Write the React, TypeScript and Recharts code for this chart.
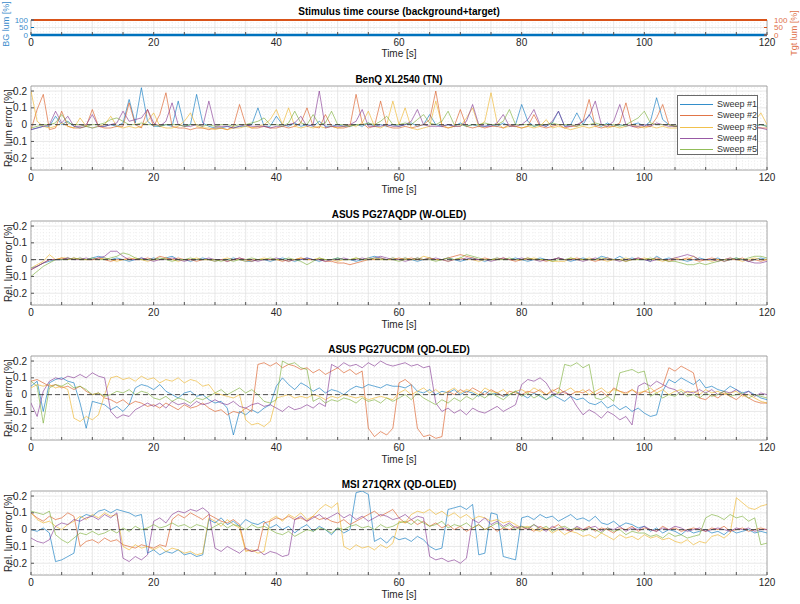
import React from "react";
import {
  LineChart,
  Line,
  XAxis,
  YAxis,
  CartesianGrid,
  ReferenceLine,
  ReferenceArea,
} from "recharts";

// sample times [s]
const time = [
  0, 1, 2, 3, 4, 5, 6, 7, 8, 9, 10, 11, 12, 13, 14, 15, 16, 17, 18, 19,
  20, 21, 22, 23, 24, 25, 26, 27, 28, 29, 30, 31, 32, 33, 34, 35, 36, 37, 38, 39,
  40, 41, 42, 43, 44, 45, 46, 47, 48, 49, 50, 51, 52, 53, 54, 55, 56, 57, 58, 59,
  60, 61, 62, 63, 64, 65, 66, 67, 68, 69, 70, 71, 72, 73, 74, 75, 76, 77, 78, 79,
  80, 81, 82, 83, 84, 85, 86, 87, 88, 89, 90, 91, 92, 93, 94, 95, 96, 97, 98, 99,
  100, 101, 102, 103, 104, 105, 106, 107, 108, 109, 110, 111, 112, 113, 114, 115, 116, 117, 118, 119,
  120,
];

// stimulus time course
const stimTime = [0, 120];
const bgLum = [0, 0];
const tgtLum = [100, 100];

const sweepNames = ["Sweep #1", "Sweep #2", "Sweep #3", "Sweep #4", "Sweep #5"];
const sweepColors = ["#0072BD", "#D95319", "#EDB120", "#7E2F8E", "#77AC30"];

const xTicks = [0, 5, 10, 15, 20, 25, 30, 35, 40, 45, 50, 55, 60, 65, 70, 75, 80, 85, 90, 95, 100, 105, 110, 115, 120];
const yTicks = [-0.2, -0.1, 0, 0.1, 0.2];
const yMinor = [-0.26, -0.24, -0.22, -0.18, -0.16, -0.14, -0.12, -0.08, -0.06, -0.04, -0.02, 0.02, 0.04, 0.06, 0.08, 0.12, 0.14, 0.16, 0.18, 0.22];
const stimTicks = [0, 50, 100];
const stimMinor = [20, 40, 60, 80];

// ---------- BenQ XL2540 (TN) ----------
const benq1 = [
  -0.03, -0.02, -0.01, -0.01, 0.05, 0.00, 0.02, -0.01, -0.02, -0.01,
  -0.02, -0.01, -0.01, 0.00, -0.01, 0.01, 0.15, 0.01, 0.22, 0.02,
  -0.01, -0.01, 0.00, -0.01, 0.14, -0.01, 0.00, 0.18, 0.01, -0.01,
  -0.02, -0.02, -0.01, -0.02, -0.01, -0.01, 0.00, 0.10, -0.01, -0.01,
  0.05, 0.00, -0.01, 0.01, -0.01, 0.00, -0.01, 0.02, -0.01, -0.01,
  0.00, -0.01, -0.01, 0.00, -0.01, 0.01, -0.01, 0.00, -0.01, 0.00,
  -0.01, 0.00, 0.01, -0.01, 0.00, 0.06, 0.00, -0.01, 0.00, -0.01,
  0.01, -0.01, 0.00, -0.01, -0.01, 0.00, -0.01, 0.01, -0.01, 0.00,
  0.12, 0.02, -0.01, 0.00, -0.01, 0.01, 0.08, -0.01, 0.00, 0.07,
  0.00, 0.06, 0.00, -0.01, 0.01, -0.01, 0.00, -0.01, 0.00, 0.01,
  -0.01, 0.02, 0.16, 0.03, 0.00, -0.01, -0.01, 0.00, -0.01, -0.01,
  0.00, -0.01, -0.01, 0.00, -0.01, -0.01, 0.00, -0.01, -0.01, 0.00,
  -0.01,
];
const benq2 = [
  -0.03, 0.09, 0.18, -0.03, -0.02, 0.08, -0.01, -0.02, -0.02, -0.01,
  0.09, -0.01, -0.02, -0.02, -0.01, -0.01, 0.13, 0.00, -0.02, 0.09,
  -0.01, 0.06, 0.19, -0.01, -0.02, -0.02, -0.03, -0.02, -0.02, -0.03,
  -0.02, -0.02, -0.03, -0.01, 0.12, 0.00, -0.02, -0.02, -0.01, -0.02,
  -0.02, -0.01, -0.02, -0.01, 0.01, 0.10, -0.01, -0.02, 0.06, -0.01,
  -0.02, -0.02, -0.01, 0.18, 0.01, -0.02, -0.01, 0.14, -0.01, -0.02,
  -0.02, -0.01, -0.02, -0.01, 0.00, 0.03, 0.20, -0.01, -0.02, -0.01,
  0.09, -0.01, -0.02, -0.01, -0.02, -0.01, -0.01, -0.02, 0.00, -0.01,
  -0.02, -0.01, 0.06, -0.01, -0.02, -0.01, 0.00, -0.02, -0.01, -0.01,
  0.02, 0.15, -0.01, -0.02, -0.01, -0.01, 0.01, 0.13, -0.01, -0.02,
  -0.01, -0.01, 0.04, 0.12, 0.00, -0.01, -0.01, -0.02, -0.01, -0.01,
  -0.02, -0.01, -0.01, -0.02, -0.01, -0.01, -0.02, -0.01, -0.01, -0.02,
  -0.02,
];
const benq3 = [
  0.20, 0.02, -0.01, -0.02, -0.01, 0.01, -0.01, -0.02, 0.04, -0.01,
  -0.02, -0.01, 0.00, 0.05, -0.01, -0.02, -0.01, -0.02, -0.01, 0.02,
  0.07, -0.01, -0.02, -0.02, -0.01, 0.02, 0.07, -0.01, -0.02, -0.02,
  -0.03, -0.02, -0.03, -0.02, -0.02, -0.01, -0.02, -0.01, 0.00, 0.03,
  0.09, 0.00, 0.10, -0.01, -0.02, -0.01, -0.02, -0.01, -0.02, -0.01,
  -0.02, -0.01, 0.00, -0.01, 0.01, 0.08, -0.01, -0.02, 0.00, 0.14,
  0.00, 0.10, -0.02, -0.03, -0.02, -0.01, 0.14, 0.00, -0.02, -0.01,
  -0.01, 0.04, 0.10, -0.01, 0.02, 0.19, 0.01, -0.02, -0.01, -0.01,
  -0.02, -0.01, -0.02, -0.01, 0.03, -0.02, -0.01, -0.02, -0.03, -0.02,
  -0.01, -0.02, -0.01, 0.00, -0.02, -0.01, -0.02, -0.01, 0.00, -0.01,
  -0.02, -0.01, -0.02, -0.01, -0.02, -0.02, -0.02, -0.01, -0.02, -0.02,
  -0.01, -0.02, -0.02, -0.01, -0.02, -0.02, -0.01, -0.01, 0.02, 0.07,
  0.00,
];
const benq4 = [
  -0.03, -0.02, -0.01, 0.00, 0.08, 0.01, 0.05, -0.01, -0.01, 0.00,
  0.06, -0.01, -0.01, 0.00, 0.01, 0.08, 0.02, 0.03, 0.04, 0.09,
  0.01, -0.01, 0.02, 0.13, 0.00, -0.01, -0.01, 0.00, -0.01, 0.14,
  -0.01, -0.01, -0.01, -0.02, -0.01, 0.00, -0.01, -0.01, -0.01, -0.02,
  -0.01, -0.01, 0.00, 0.01, 0.05, -0.01, 0.00, 0.20, -0.02, -0.01,
  -0.01, -0.01, 0.00, 0.02, 0.09, -0.01, -0.01, -0.01, 0.00, -0.01,
  -0.01, 0.00, 0.02, 0.09, 0.00, -0.01, -0.01, -0.01, 0.00, -0.01,
  -0.01, 0.02, 0.12, 0.00, -0.01, -0.01, 0.01, 0.06, -0.01, -0.01,
  0.00, 0.03, 0.09, 0.00, -0.01, 0.02, 0.08, -0.01, -0.01, 0.00,
  0.02, 0.05, 0.14, 0.00, -0.01, 0.02, 0.12, 0.00, -0.01, -0.01,
  0.00, -0.01, 0.01, 0.00, -0.01, -0.01, -0.01, -0.01, -0.01, -0.01,
  -0.01, -0.01, -0.01, -0.01, -0.01, -0.01, -0.01, -0.02, -0.02, -0.02,
  -0.03,
];
const benq5 = [
  -0.02, -0.01, 0.00, 0.00, 0.01, 0.06, 0.01, 0.00, 0.00, -0.01,
  0.00, 0.00, 0.01, 0.03, 0.04, 0.02, 0.00, 0.00, 0.01, 0.00,
  0.00, -0.01, 0.00, 0.00, 0.00, -0.01, 0.00, 0.00, -0.01, 0.00,
  -0.01, 0.00, 0.00, -0.01, 0.00, 0.00, 0.01, 0.02, 0.04, 0.00,
  0.00, -0.01, 0.01, 0.08, 0.01, 0.00, 0.06, 0.00, 0.01, 0.08,
  0.00, 0.00, -0.01, 0.00, 0.00, 0.01, 0.00, 0.02, 0.05, 0.00,
  0.00, 0.01, 0.00, 0.03, 0.06, 0.01, 0.00, 0.02, 0.08, 0.00,
  0.00, -0.01, 0.00, 0.00, 0.01, 0.00, 0.00, 0.02, 0.09, 0.00,
  0.00, 0.00, -0.01, 0.00, 0.00, 0.01, 0.00, 0.00, 0.00, -0.01,
  0.00, 0.00, 0.01, 0.00, 0.00, 0.00, -0.01, 0.00, 0.02, 0.04,
  0.08, 0.01, 0.00, 0.00, 0.00, -0.01, 0.00, 0.00, 0.00, 0.00,
  0.00, -0.01, 0.00, 0.00, 0.00, 0.00, -0.01, 0.00, 0.00, 0.00,
  -0.01,
];

// ---------- ASUS PG27AQDP (W-OLED) ----------
const aqdp1 = [
  -0.05, -0.04, -0.02, -0.01, 0.00, 0.00, 0.01, 0.00, 0.01, 0.00,
  0.01, 0.02, 0.01, 0.00, 0.01, 0.00, -0.01, 0.00, 0.01, 0.00,
  0.01, 0.00, 0.01, 0.02, 0.00, 0.00, -0.01, 0.00, 0.01, 0.00,
  -0.01, 0.00, 0.00, 0.01, 0.00, -0.01, -0.01, 0.00, 0.00, -0.01,
  0.00, 0.01, 0.00, -0.01, 0.00, 0.01, 0.00, -0.01, 0.00, 0.00,
  0.01, 0.00, 0.00, -0.01, 0.00, 0.01, 0.02, 0.01, 0.00, 0.01,
  0.00, 0.01, 0.00, -0.01, 0.00, 0.01, 0.00, 0.00, 0.01, 0.00,
  -0.01, 0.00, 0.01, 0.00, -0.01, 0.00, 0.01, 0.00, 0.00, 0.01,
  0.00, -0.01, 0.00, 0.01, 0.00, 0.00, 0.01, 0.00, -0.01, 0.00,
  0.01, 0.00, 0.00, 0.02, 0.01, 0.00, 0.02, 0.00, 0.01, 0.00,
  0.00, -0.01, 0.02, 0.00, 0.01, 0.00, 0.00, -0.01, 0.00, 0.01,
  0.00, 0.00, 0.01, -0.01, 0.00, 0.01, 0.00, -0.01, 0.00, 0.01,
  0.00,
];
const aqdp2 = [
  -0.06, -0.04, -0.02, 0.00, 0.00, 0.01, 0.00, 0.01, 0.00, 0.00,
  0.00, 0.01, 0.00, -0.01, 0.00, 0.00, 0.01, 0.00, 0.00, 0.01,
  0.00, 0.02, 0.01, 0.00, 0.01, 0.00, 0.00, -0.01, 0.00, 0.00,
  0.00, 0.00, -0.01, 0.00, 0.01, 0.00, -0.01, 0.00, 0.00, 0.00,
  0.00, -0.01, 0.00, 0.00, 0.01, 0.00, 0.00, 0.00, -0.01, -0.01,
  -0.02, -0.02, -0.03, -0.02, -0.01, 0.00, 0.00, 0.01, 0.00, 0.00,
  0.01, 0.00, 0.01, 0.00, 0.00, 0.01, 0.00, 0.00, 0.01, 0.02,
  0.03, 0.02, 0.01, 0.00, 0.01, 0.00, 0.00, 0.01, 0.00, -0.01,
  0.00, 0.01, 0.00, 0.00, -0.01, 0.00, 0.01, 0.00, 0.00, 0.01,
  0.00, 0.00, -0.01, 0.00, 0.01, 0.00, 0.00, -0.01, 0.00, 0.01,
  0.00, 0.00, 0.01, 0.00, -0.01, 0.00, 0.00, 0.01, 0.00, -0.01,
  0.00, 0.01, 0.00, -0.01, 0.00, 0.00, 0.01, -0.01, 0.00, -0.01,
  0.00,
];
const aqdp3 = [
  -0.05, -0.03, -0.01, 0.03, 0.00, 0.01, 0.01, 0.00, 0.01, 0.00,
  0.00, 0.00, 0.01, 0.00, -0.01, 0.00, 0.00, 0.01, 0.00, -0.01,
  0.00, 0.00, 0.01, 0.00, -0.01, 0.00, 0.00, 0.01, 0.00, 0.00,
  -0.01, 0.00, 0.01, 0.00, 0.00, -0.01, 0.00, 0.00, 0.01, 0.00,
  0.00, 0.00, -0.01, 0.00, 0.01, 0.00, 0.00, 0.01, 0.00, 0.00,
  -0.01, 0.00, 0.00, 0.01, 0.00, 0.01, 0.00, 0.00, 0.00, 0.01,
  0.00, 0.01, 0.00, 0.00, 0.02, 0.01, 0.00, 0.00, -0.01, 0.00,
  0.01, 0.00, 0.00, -0.01, 0.00, 0.00, 0.01, 0.00, 0.00, 0.00,
  0.00, 0.00, 0.01, 0.00, 0.00, -0.01, -0.01, -0.01, 0.01, 0.00,
  0.00, 0.01, 0.00, 0.00, -0.01, 0.00, 0.00, 0.01, 0.00, 0.00,
  0.01, 0.00, 0.00, -0.01, 0.00, 0.01, 0.00, 0.00, 0.02, 0.00,
  0.00, -0.01, 0.00, 0.00, 0.01, 0.00, -0.01, 0.00, 0.01, 0.00,
  0.00,
];
const aqdp4 = [
  -0.06, -0.04, -0.02, 0.00, 0.00, 0.00, 0.01, 0.00, 0.00, 0.01,
  0.00, 0.01, 0.02, 0.05, 0.05, 0.02, 0.00, 0.00, 0.01, 0.00,
  -0.01, 0.00, 0.00, 0.01, 0.00, -0.01, 0.00, 0.00, 0.00, 0.01,
  0.00, 0.00, -0.01, 0.00, 0.01, 0.00, 0.00, -0.01, 0.00, 0.00,
  0.01, 0.00, -0.01, 0.00, 0.00, 0.01, 0.00, 0.00, -0.01, 0.00,
  0.00, 0.01, 0.00, 0.00, 0.01, 0.00, 0.01, 0.02, 0.01, 0.00,
  0.00, -0.01, 0.00, 0.01, 0.00, 0.00, 0.01, 0.00, -0.01, 0.00,
  0.00, 0.01, 0.00, 0.00, 0.00, -0.01, 0.00, 0.01, 0.00, 0.00,
  0.01, 0.00, 0.00, -0.01, 0.00, 0.00, 0.01, 0.00, 0.00, 0.00,
  -0.01, 0.00, 0.01, 0.00, 0.00, 0.00, -0.01, 0.00, 0.00, 0.01,
  0.00, -0.01, 0.00, 0.00, 0.00, 0.01, 0.02, 0.03, 0.02, 0.00,
  0.00, 0.00, -0.01, 0.00, 0.01, 0.00, 0.00, -0.01, -0.02, -0.02,
  -0.01,
];
const aqdp5 = [
  -0.10, -0.07, -0.04, -0.02, 0.00, 0.00, 0.00, 0.01, 0.00, 0.00,
  0.01, 0.00, 0.00, 0.01, 0.02, 0.04, 0.03, 0.01, 0.00, 0.00,
  0.00, 0.01, 0.00, -0.01, 0.00, 0.00, 0.01, 0.00, 0.00, 0.00,
  0.00, -0.01, 0.00, -0.01, 0.00, 0.00, 0.01, 0.00, 0.00, 0.01,
  0.00, 0.00, 0.01, 0.00, -0.01, -0.03, -0.01, 0.01, 0.00, 0.00,
  0.01, 0.00, 0.00, 0.01, 0.00, 0.00, 0.01, 0.00, 0.00, 0.00,
  -0.01, 0.00, 0.00, 0.01, 0.00, 0.00, -0.01, 0.00, 0.01, 0.00,
  0.01, 0.03, 0.02, 0.01, 0.00, 0.00, 0.00, 0.00, 0.01, 0.00,
  0.00, 0.01, 0.00, 0.00, 0.00, -0.01, 0.00, 0.00, 0.01, 0.00,
  0.00, 0.00, 0.00, 0.01, 0.00, 0.00, 0.00, -0.01, 0.00, 0.00,
  0.00, 0.01, 0.00, 0.00, -0.01, -0.01, -0.02, -0.03, -0.03, -0.02,
  -0.03, -0.02, -0.01, 0.00, 0.00, 0.01, 0.00, 0.01, 0.02, 0.02,
  0.01,
];

// ---------- ASUS PG27UCDM (QD-OLED) ----------
const ucdm1 = [
  0.05, 0.08, -0.10, 0.07, 0.09, 0.10, 0.08, 0.07, -0.05, -0.20,
  -0.04, -0.05, -0.06, -0.09, -0.07, -0.10, -0.06, 0.04, 0.06, 0.05,
  0.03, 0.06, 0.02, 0.00, -0.02, 0.01, 0.02, -0.01, 0.00, -0.03,
  -0.05, -0.04, -0.08, -0.24, -0.10, -0.12, -0.09, -0.11, -0.08, -0.06,
  0.05, 0.10, 0.06, 0.03, 0.07, 0.05, 0.02, 0.04, 0.01, 0.03,
  0.02, 0.00, 0.03, 0.05, 0.04, 0.06, 0.05, 0.04, 0.06, 0.05,
  0.05, 0.04, 0.06, 0.02, 0.01, 0.03, 0.00, 0.02, 0.01, 0.03,
  0.00, 0.02, 0.01, -0.01, 0.02, 0.00, 0.01, -0.01, 0.00, 0.02,
  0.00, -0.02, 0.01, -0.01, -0.03, 0.00, -0.02, -0.04, -0.01, -0.03,
  -0.02, -0.05, -0.06, -0.04, -0.08, -0.06, -0.09, -0.07, -0.10, -0.08,
  -0.11, -0.13, -0.12, 0.02, 0.09, 0.07, 0.10, 0.08, 0.06, 0.09,
  0.04, 0.05, 0.03, 0.02, 0.05, 0.03, 0.01, 0.02, 0.00, -0.02,
  -0.03,
];
const ucdm2 = [
  0.08, 0.09, 0.07, 0.05, 0.06, 0.04, 0.05, 0.03, 0.05, 0.02,
  0.00, 0.01, -0.02, -0.03, -0.05, -0.03, -0.06, -0.04, -0.05, -0.07,
  -0.06, -0.08, -0.05, -0.07, -0.09, -0.06, -0.08, -0.07, -0.05, -0.08,
  -0.10, -0.09, -0.12, -0.10, -0.11, -0.08, -0.10, 0.18, 0.19, 0.17,
  0.19, 0.16, 0.18, 0.17, 0.15, 0.16, 0.13, 0.15, 0.12, 0.14,
  0.16, 0.13, 0.15, 0.12, 0.14, -0.20, -0.25, -0.22, -0.24, -0.20,
  0.07, 0.09, 0.06, -0.20, -0.25, -0.24, -0.26, -0.25, 0.02, 0.00,
  0.03, 0.01, 0.04, 0.02, 0.00, 0.03, 0.01, -0.01, 0.02, 0.01,
  0.00, 0.02, 0.01, 0.03, 0.00, 0.02, 0.04, 0.01, 0.00, 0.02,
  0.01, 0.03, 0.00, 0.02, -0.01, 0.04, 0.02, 0.01, 0.03, 0.00,
  0.02, 0.01, 0.03, 0.05, 0.16, 0.14, 0.17, 0.15, 0.13, -0.02,
  -0.03, 0.00, -0.02, 0.01, -0.01, -0.03, 0.00, -0.02, -0.04, -0.05,
  -0.05,
];
const ucdm3 = [
  0.04, 0.06, 0.05, 0.06, 0.04, 0.05, 0.03, -0.14, -0.16, -0.13,
  -0.15, -0.12, 0.00, 0.10, 0.11, 0.09, 0.10, 0.08, 0.11, 0.09,
  0.10, 0.07, 0.09, 0.08, 0.10, 0.07, 0.09, 0.08, 0.05, 0.06,
  0.01, 0.00, -0.01, -0.02, 0.00, -0.15, -0.18, -0.17, -0.19, -0.16,
  -0.02, -0.01, 0.00, -0.02, -0.01, -0.02, 0.00, -0.01, -0.03, -0.01,
  -0.02, 0.00, -0.01, -0.02, -0.01, -0.03, -0.02, -0.01, -0.02, -0.03,
  0.01, 0.03, 0.00, 0.02, 0.04, 0.01, 0.03, 0.00, 0.02, 0.04,
  0.01, 0.03, 0.02, 0.00, 0.04, 0.02, 0.01, 0.03, 0.00, 0.02,
  0.03, 0.01, 0.04, 0.02, 0.00, 0.03, 0.01, 0.02, 0.04, 0.01,
  0.03, 0.00, 0.02, 0.04, 0.01, 0.03, 0.02, 0.00, 0.03, 0.01,
  0.02, 0.04, 0.01, 0.03, 0.00, 0.02, 0.03, 0.01, 0.02, 0.00,
  0.03, 0.01, 0.02, 0.00, 0.01, 0.02, -0.01, 0.00, -0.02, -0.04,
  -0.05,
];
const ucdm4 = [
  -0.05, -0.13, 0.02, 0.08, 0.10, 0.09, 0.11, 0.10, 0.12, 0.10,
  0.13, 0.11, 0.10, -0.10, -0.14, -0.12, -0.13, -0.09, -0.07, -0.05,
  -0.07, -0.05, -0.08, -0.04, -0.06, -0.05, -0.07, -0.04, -0.06, -0.05,
  -0.03, -0.05, -0.06, -0.04, -0.07, -0.08, -0.06, -0.05, -0.07, -0.06,
  -0.08, -0.10, -0.07, -0.09, -0.08, -0.06, -0.08, -0.05, -0.07, 0.18,
  0.16, 0.19, 0.17, 0.18, 0.16, 0.19, 0.17, 0.20, 0.18, 0.17,
  0.18, 0.19, 0.17, 0.18, 0.16, 0.17, -0.05, -0.10, -0.08, -0.11,
  -0.09, -0.12, -0.08, -0.10, -0.11, -0.09, -0.07, -0.10, -0.08, -0.06,
  0.06, 0.09, 0.08, 0.10, 0.07, 0.01, 0.00, 0.02, -0.01, -0.07,
  -0.12, -0.09, -0.11, -0.14, -0.10, -0.12, -0.15, -0.13, -0.18, 0.05,
  0.07, 0.05, 0.08, 0.06, 0.04, 0.03, 0.00, 0.02, 0.01, 0.03,
  0.01, 0.03, 0.00, 0.02, 0.01, 0.03, 0.00, 0.02, -0.01, 0.01,
  0.00,
];
const ucdm5 = [
  0.08, 0.05, -0.17, 0.04, 0.06, 0.05, 0.07, 0.04, 0.05, 0.03,
  0.00, 0.01, -0.01, 0.00, 0.02, 0.01, 0.03, 0.00, 0.02, 0.01,
  -0.02, -0.03, -0.01, -0.04, -0.02, -0.03, -0.05, -0.02, -0.03, -0.01,
  0.01, 0.03, 0.00, 0.02, 0.04, 0.01, 0.03, 0.00, -0.04, -0.05,
  -0.03, 0.20, 0.18, 0.19, 0.16, 0.15, -0.04, -0.02, -0.05, -0.03,
  -0.04, -0.02, -0.03, -0.05, -0.02, -0.04, -0.03, -0.05, -0.02, -0.04,
  -0.02, 0.00, -0.03, 0.01, -0.02, -0.04, -0.06, -0.03, -0.05, -0.02,
  -0.04, -0.01, -0.03, 0.00, -0.02, 0.01, -0.01, -0.03, 0.00, 0.02,
  -0.01, 0.01, -0.02, 0.00, -0.03, -0.01, 0.01, 0.18, 0.17, 0.19,
  0.16, 0.18, -0.02, -0.03, -0.01, -0.04, 0.13, 0.14, 0.15, 0.13,
  0.14, -0.01, 0.01, -0.02, 0.00, -0.01, 0.02, -0.01, 0.00, -0.02,
  0.01, -0.01, 0.00, 0.02, -0.01, 0.00, 0.01, -0.02, 0.00, -0.01,
  -0.02,
];

// ---------- MSI 271QRX (QD-OLED) ----------
const msi1 = [
  0.00, -0.01, 0.01, -0.02, -0.19, -0.18, -0.16, -0.14, 0.07, 0.09,
  0.08, 0.11, 0.12, 0.10, 0.12, 0.11, 0.10, 0.08, 0.09, -0.14,
  -0.12, -0.15, -0.13, -0.14, -0.12, -0.15, -0.14, -0.16, -0.15, 0.06,
  0.04, 0.07, 0.03, 0.05, 0.02, 0.06, 0.04, 0.03, 0.05, 0.01,
  0.03, 0.00, 0.02, -0.02, 0.01, 0.03, -0.01, 0.02, 0.00, -0.03,
  0.01, -0.02, 0.00, 0.22, 0.23, 0.21, -0.07, -0.05, -0.08, -0.04,
  -0.06, -0.05, -0.07, -0.04, -0.06, -0.10, -0.12, -0.11, 0.12, 0.13,
  0.14, 0.12, 0.15, -0.15, -0.14, 0.10, 0.09, -0.16, -0.17, -0.18,
  0.07, 0.08, 0.06, 0.09, 0.07, 0.08, 0.05, 0.07, 0.09, 0.06,
  0.07, 0.05, 0.08, 0.04, 0.03, 0.05, 0.02, 0.04, 0.03, 0.01,
  0.02, -0.01, 0.01, -0.02, 0.00, -0.01, -0.03, 0.00, -0.02, -0.01,
  0.00, -0.02, -0.01, -0.03, 0.00, -0.02, -0.01, 0.00, -0.02, -0.01,
  -0.02,
];
const msi2 = [
  0.10, 0.07, 0.05, 0.08, 0.06, 0.07, 0.10, 0.08, -0.10, -0.07,
  -0.06, -0.08, -0.05, -0.07, -0.06, -0.09, -0.10, -0.11, -0.09, -0.10,
  -0.11, -0.09, -0.10, 0.06, 0.09, 0.07, 0.10, 0.08, 0.06, 0.09,
  0.07, 0.05, 0.04, 0.06, 0.03, -0.12, -0.13, -0.12, 0.04, 0.05,
  0.07, 0.06, 0.08, 0.06, 0.07, 0.05, 0.08, 0.06, 0.07, 0.05,
  0.04, 0.06, 0.03, 0.05, 0.07, 0.09, 0.11, 0.08, 0.10, 0.12,
  0.07, 0.04, 0.06, 0.03, 0.05, 0.02, 0.04, 0.01, 0.03, 0.00,
  0.02, -0.01, 0.01, 0.03, 0.00, 0.02, -0.01, 0.01, 0.00, 0.02,
  0.00, 0.01, -0.01, 0.02, 0.00, 0.01, 0.03, 0.00, -0.01, 0.01,
  0.00, 0.02, -0.01, 0.01, 0.00, -0.02, 0.01, 0.00, 0.02, -0.01,
  0.01, 0.00, -0.01, 0.02, 0.00, 0.01, -0.01, 0.00, 0.01, 0.00,
  -0.01, 0.01, 0.00, 0.02, -0.01, 0.00, 0.01, -0.01, 0.00, 0.01,
  0.00,
];
const msi3 = [
  0.10, 0.06, 0.04, 0.05, 0.02, 0.00, 0.03, 0.05, 0.08, 0.06,
  0.09, 0.07, 0.10, 0.08, 0.09, -0.10, -0.12, -0.09, -0.11, -0.10,
  -0.12, -0.10, -0.13, -0.11, -0.12, -0.14, -0.13, -0.15, -0.14, 0.07,
  0.05, 0.02, 0.06, 0.03, 0.01, -0.13, -0.12, -0.14, -0.13, 0.06,
  0.08, 0.05, 0.09, 0.07, 0.10, 0.06, 0.08, 0.12, 0.15, 0.13,
  0.16, -0.10, -0.12, -0.09, -0.11, -0.10, -0.12, -0.09, -0.11, -0.08,
  0.05, 0.04, 0.09, 0.11, 0.10, 0.12, 0.09, 0.11, 0.08, 0.10,
  0.07, 0.09, 0.06, 0.08, 0.07, 0.05, 0.06, 0.04, 0.05, 0.03,
  0.01, 0.02, 0.00, -0.01, 0.01, -0.02, 0.00, -0.03, -0.01, -0.02,
  -0.04, -0.03, -0.05, -0.02, -0.04, -0.06, -0.03, -0.05, -0.04, -0.06,
  -0.03, -0.05, -0.04, -0.06, -0.05, -0.07, -0.08, -0.06, -0.09, -0.07,
  -0.08, -0.04, -0.03, -0.05, -0.02, 0.19, 0.16, 0.13, 0.12, 0.14,
  0.15,
];
const msi4 = [
  -0.05, -0.07, -0.08, -0.06, 0.02, 0.04, 0.03, 0.06, 0.05, 0.07,
  0.08, 0.06, 0.09, 0.07, 0.10, -0.17, -0.19, -0.16, -0.18, -0.15,
  0.05, 0.07, 0.04, 0.09, 0.11, 0.10, 0.12, 0.11, 0.13, 0.10,
  -0.11, -0.13, -0.10, -0.12, -0.14, -0.11, -0.13, -0.12, -0.15, -0.13,
  -0.14, -0.16, -0.15, 0.06, 0.08, 0.05, 0.07, 0.09, 0.06, 0.08,
  0.10, 0.07, 0.09, 0.06, 0.08, 0.05, 0.07, 0.09, 0.08, 0.06,
  0.07, 0.09, 0.06, 0.08, 0.07, -0.16, -0.18, -0.17, -0.19, -0.18,
  -0.20, -0.17, 0.06, 0.04, 0.07, 0.03, 0.05, 0.02, 0.04, 0.01,
  0.02, 0.00, 0.03, 0.01, -0.01, 0.02, 0.00, 0.01, -0.01, 0.02,
  0.00, 0.01, 0.02, -0.01, 0.01, 0.00, 0.02, -0.01, 0.01, 0.00,
  0.02, 0.00, -0.01, 0.01, 0.00, 0.02, 0.01, -0.01, 0.00, 0.01,
  -0.01, 0.00, 0.01, 0.00, -0.01, 0.01, 0.00, 0.01, -0.01, 0.00,
  0.00,
];
const msi5 = [
  0.11, 0.10, 0.09, 0.11, -0.03, -0.06, -0.08, -0.05, -0.02, -0.03,
  -0.01, -0.03, -0.02, 0.00, -0.02, 0.01, -0.01, 0.02, 0.00, 0.01,
  0.03, 0.01, 0.02, 0.04, 0.02, 0.03, 0.01, 0.03, 0.02, 0.00,
  0.02, 0.04, 0.01, 0.03, 0.02, 0.00, 0.03, 0.01, 0.02, 0.00,
  -0.02, -0.03, -0.01, -0.04, -0.02, 0.00, -0.01, 0.01, 0.00, -0.02,
  0.01, 0.00, 0.02, 0.03, 0.01, 0.02, 0.00, 0.03, 0.01, 0.02,
  0.04, 0.05, 0.03, 0.06, 0.04, 0.02, 0.03, 0.05, 0.01, 0.03,
  0.02, 0.04, 0.01, 0.03, 0.00, 0.02, 0.04, 0.01, 0.03, 0.00,
  0.02, 0.01, 0.03, 0.00, 0.02, -0.01, 0.01, 0.02, 0.00, 0.01,
  -0.01, 0.01, 0.00, -0.02, 0.01, -0.01, 0.00, -0.03, -0.01, -0.02,
  -0.02, -0.04, -0.03, -0.05, -0.02, -0.04, -0.03, -0.05, -0.04, -0.03,
  0.07, 0.09, 0.08, 0.06, 0.09, 0.07, 0.08, 0.05, 0.07, -0.09,
  -0.08,
];

const FONT = '"Liberation Sans", Arial, Helvetica, sans-serif';
const TEXT = "#262626";
const xMinor = time.filter((t) => t % 5 !== 0);

const fmtX = (v: number) => (v % 20 === 0 ? String(v) : "");
const fmtY = (v: number) => (v === 0 ? "0" : v.toFixed(1));

function buildRows(series: number[][]) {
  return time.map((t, i) => {
    const row: Record<string, number> = { t };
    series.forEach((s, k) => {
      row[`s${k + 1}`] = s[i];
    });
    return row;
  });
}

const centered = (top: number, extra: React.CSSProperties = {}): React.CSSProperties => ({
  position: "absolute",
  left: 31,
  width: 736,
  top,
  textAlign: "center",
  fontSize: 10,
  color: TEXT,
  lineHeight: "11px",
  whiteSpace: "nowrap",
  ...extra,
});

const rotated = (x: number, y: number, color: string, size = 10): React.CSSProperties => ({
  position: "absolute",
  left: x,
  top: y,
  transform: "translate(-50%, -50%) rotate(-90deg)",
  fontSize: size,
  lineHeight: `${size + 1}px`,
  color,
  whiteSpace: "nowrap",
});

interface SweepPanelProps {
  title: string;
  top: number; // top of plot box
  series: number[][];
  legend?: boolean;
}

const SweepPanel: React.FC<SweepPanelProps> = ({ title, top, series, legend }) => {
  const rows = buildRows(series);
  const plotH = 84;
  return (
    <>
      <div style={centered(top - 12, { fontWeight: 700, color: "#000" })}>{title}</div>
      <div style={{ position: "absolute", left: 0, top: top - 10 }}>
        <LineChart
          width={800}
          height={plotH + 40}
          data={rows}
          margin={{ top: 10, right: 33, bottom: 0, left: 0 }}
        >
          <CartesianGrid stroke="#e0e0e0" strokeWidth={0.7} />
          {xMinor.map((v) => (
            <ReferenceLine key={`mx${v}`} x={v} stroke="#e6e6e6" strokeWidth={0.6} strokeDasharray="1 2" />
          ))}
          {yMinor.map((v) => (
            <ReferenceLine key={`my${v}`} y={v} stroke="#e6e6e6" strokeWidth={0.6} strokeDasharray="1 2" />
          ))}
          <XAxis
            dataKey="t"
            type="number"
            domain={[0, 120]}
            ticks={xTicks}
            interval={0}
            tickFormatter={fmtX}
            tickSize={-3}
            tickMargin={6.5}
            axisLine={false}
            tickLine={{ stroke: "#555" }}
            height={30}
            allowDataOverflow
            tick={{ fontSize: 10, fill: TEXT }}
          />
          <YAxis
            type="number"
            domain={[-0.27, 0.23]}
            ticks={yTicks}
            interval={0}
            tickFormatter={fmtY}
            tickSize={-3}
            tickMargin={7}
            axisLine={false}
            tickLine={{ stroke: "#555" }}
            width={31}
            allowDataOverflow
            tick={{ fontSize: 10, fill: TEXT }}
          />
          {series.map((_, k) => (
            <Line
              key={k}
              type="linear"
              dataKey={`s${k + 1}`}
              stroke={sweepColors[k]}
              strokeWidth={0.75}
              strokeOpacity={0.8}
              dot={false}
              isAnimationActive={false}
            />
          ))}
          <ReferenceLine y={0} stroke="#3a3a3a" strokeWidth={0.9} strokeDasharray="5 3" />
          <ReferenceArea x1={0} x2={120} y1={-0.27} y2={0.23} fill="none" stroke="#9a9a9a" strokeWidth={0.8} />
        </LineChart>
      </div>
      <div style={centered(top + plotH + 13.5)}>Time [s]</div>
      <div style={rotated(8, top + plotH / 2, TEXT)}>Rel. lum error [%]</div>
      {legend && (
        <div
          style={{
            position: "absolute",
            left: 677,
            top: top + 9,
            width: 81,
            height: 60,
            background: "#fff",
            border: "1px solid #6a6a6a",
            boxSizing: "border-box",
            padding: "3px 0 0 2px",
          }}
        >
          {sweepNames.map((name, k) => (
            <div
              key={name}
              style={{ display: "flex", alignItems: "center", height: 11.3, whiteSpace: "nowrap" }}
            >
              <div
                style={{
                  flex: "0 0 33px",
                  height: 0,
                  borderTop: `1px solid ${sweepColors[k]}`,
                  opacity: 0.8,
                }}
              />
              <span style={{ fontSize: 9, lineHeight: "11px", color: "#333", marginLeft: 4, whiteSpace: "nowrap" }}>
                {name}
              </span>
            </div>
          ))}
        </div>
      )}
    </>
  );
};

const StimulusPanel: React.FC = () => {
  const rows = stimTime.map((t, i) => ({ t, bg: bgLum[i], tgt: tgtLum[i] }));
  const plotTop = 19.5;
  const plotH = 15;
  return (
    <>
      <div style={centered(plotTop - 14, { fontWeight: 700, color: "#000" })}>
        Stimulus time course (background+target)
      </div>
      <div style={{ position: "absolute", left: 0, top: plotTop - 10 }}>
        <LineChart
          width={800}
          height={plotH + 40}
          data={rows}
          margin={{ top: 10, right: 0, bottom: 0, left: 0 }}
        >
          <CartesianGrid stroke="#e0e0e0" strokeWidth={0.7} yAxisId="bg" />
          {xMinor.map((v) => (
            <ReferenceLine key={`mx${v}`} x={v} yAxisId="bg" stroke="#e6e6e6" strokeWidth={0.6} strokeDasharray="1 2" />
          ))}
          {stimMinor.map((v) => (
            <ReferenceLine key={`my${v}`} y={v} yAxisId="bg" stroke="#e6e6e6" strokeWidth={0.6} strokeDasharray="1 2" />
          ))}
          <XAxis
            dataKey="t"
            type="number"
            domain={[0, 120]}
            ticks={xTicks}
            interval={0}
            tickFormatter={fmtX}
            tickSize={-3}
            tickMargin={6.5}
            axisLine={false}
            tickLine={{ stroke: "#555" }}
            height={30}
            tick={{ fontSize: 10, fill: TEXT }}
          />
          <YAxis
            yAxisId="bg"
            type="number"
            domain={[0, 100]}
            ticks={stimTicks}
            interval={0}
            tickSize={-3}
            tickMargin={6}
            axisLine={false}
            tickLine={{ stroke: "#0072BD" }}
            width={31}
            tick={{ fontSize: 8, fill: "#3b8ccc" }}
          />
          <YAxis
            yAxisId="tgt"
            orientation="right"
            type="number"
            domain={[0, 100]}
            ticks={stimTicks}
            interval={0}
            tickSize={-3}
            tickMargin={10}
            axisLine={false}
            tickLine={{ stroke: "#D95319" }}
            width={33}
            tick={{ fontSize: 8, fill: "#e0714a" }}
          />
          <Line yAxisId="bg" type="linear" dataKey="bg" stroke="#0072BD" strokeWidth={2.5} dot={false} isAnimationActive={false} />
          <Line yAxisId="tgt" type="linear" dataKey="tgt" stroke="#D95319" strokeWidth={2} dot={false} isAnimationActive={false} />
          <ReferenceArea yAxisId="bg" x1={0} x2={120} y1={0} y2={100} fill="none" stroke="#9a9a9a" strokeWidth={0.8} />
        </LineChart>
      </div>
      <div style={centered(plotTop + plotH + 13.5)}>Time [s]</div>
      <div style={rotated(6, 24, "#3b8ccc", 9)}>BG lum [%]</div>
      <div style={rotated(794, 33, "#e0714a", 9)}>Tgt lum [%]</div>
    </>
  );
};

export default function App() {
  return (
    <div
      style={{
        position: "absolute",
        left: 0,
        top: 0,
        width: 800,
        height: 604,
        background: "#fff",
        fontFamily: FONT,
        overflow: "hidden",
      }}
    >
      <StimulusPanel />
      <SweepPanel title="BenQ XL2540 (TN)" top={86} series={[benq1, benq2, benq3, benq4, benq5]} legend />
      <SweepPanel title="ASUS PG27AQDP (W-OLED)" top={221} series={[aqdp1, aqdp2, aqdp3, aqdp4, aqdp5]} />
      <SweepPanel title="ASUS PG27UCDM (QD-OLED)" top={356} series={[ucdm1, ucdm2, ucdm3, ucdm4, ucdm5]} />
      <SweepPanel title="MSI 271QRX (QD-OLED)" top={491} series={[msi1, msi2, msi3, msi4, msi5]} />
    </div>
  );
}
